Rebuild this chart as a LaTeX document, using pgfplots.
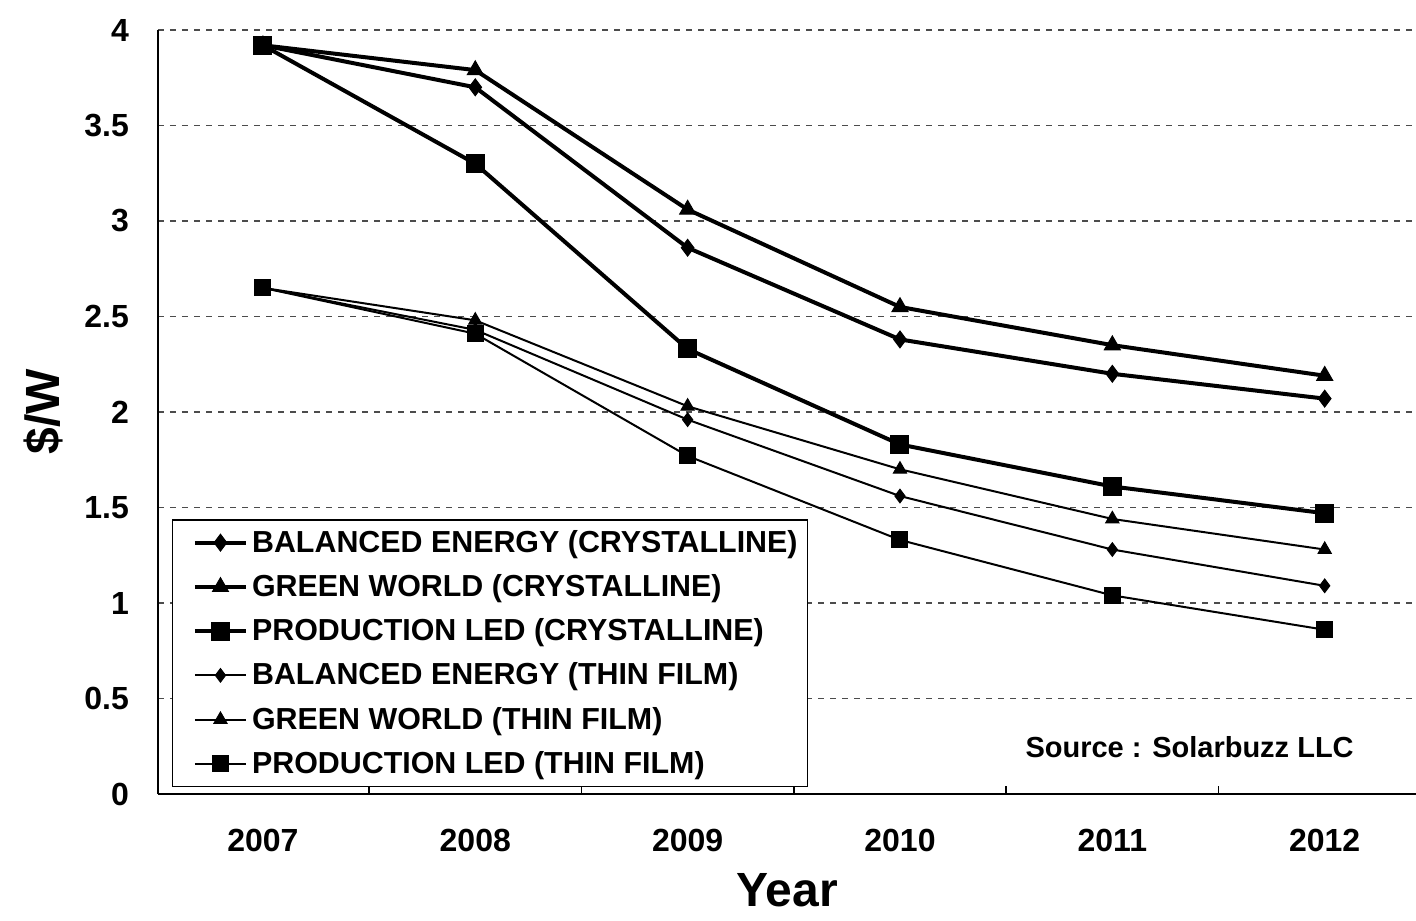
\documentclass[border=0pt]{standalone}
\usepackage{pgfplots}
\pgfplotsset{compat=1.18}
\usepackage{fontspec}
\setmainfont{Liberation Sans}
\usetikzlibrary{calc}
\begin{document}
\begin{tikzpicture}
\begin{axis}[scale only axis, width=629pt, height=382pt,
 xmin=2006.506, xmax=2012.43, ymin=0, ymax=4,
 axis x line=bottom, axis y line=left, axis line style={-, line width=0.9pt},
 xtick={2007,2008,2009,2010,2011,2012},
 xticklabels={2007,2008,2009,2010,2011,2012},
 major x tick style={draw=none},
 minor xtick={2007.5,2008.5,2009.5,2010.5,2011.5}, minor tick length=4pt, tick align=inside,
 minor tick style={black, line width=0.8pt},
 ytick={0,0.5,1,1.5,2,2.5,3,3.5,4},
 yticklabels={0,0.5,1,1.5,2,2.5,3,3.5,4},
 major y tick style={draw=none},
 ymajorgrids, grid style={dashed, gray!60!black, line width=0.6pt},
 tick label style={font=\bfseries\fontsize{16}{19}\selectfont},
 xticklabel style={yshift=-14pt},
 yticklabel style={xshift=-11pt},
 xlabel={Year}, ylabel={\$/W},
 xlabel style={font=\bfseries\fontsize{24}{28}\selectfont, yshift=-4pt},
 ylabel style={font=\bfseries\fontsize{24}{28}\selectfont, yshift=4pt},
 legend style={at={(0.011,0.009)}, anchor=south west, draw=black, line width=0.8pt,
   font=\bfseries\fontsize{15.2}{18}\selectfont, row sep=5.6pt, inner xsep=3pt, inner ysep=3pt},
 legend cell align=left,
 legend image code/.code={\path (0cm,0cm); \draw[mark repeat=2,mark phase=2] plot coordinates {(0.25cm,0cm) (0.7cm,0cm) (1.15cm,0cm)};},
 clip=false,
]
\addplot[black, line width=2pt, mark=diamond*, mark size=4.2pt, mark options={solid, line width=0.5pt}] coordinates {
(2007,3.92) (2008,3.70) (2009,2.86) (2010,2.38) (2011,2.20) (2012,2.07)};
\addlegendentry{BALANCED ENERGY (CRYSTALLINE)}
\addplot[black, line width=2pt, mark=triangle*, mark size=4.6pt, mark options={solid, line width=0.5pt}] coordinates {
(2007,3.92) (2008,3.79) (2009,3.06) (2010,2.55) (2011,2.35) (2012,2.19)};
\addlegendentry{GREEN WORLD (CRYSTALLINE)}
\addplot[black, line width=2pt, mark=square*, mark size=4.5pt, mark options={solid, line width=0.5pt}] coordinates {
(2007,3.92) (2008,3.30) (2009,2.33) (2010,1.83) (2011,1.61) (2012,1.47)};
\addlegendentry{PRODUCTION LED (CRYSTALLINE)}
\addplot[black, line width=1pt, mark=diamond*, mark size=3.4pt, mark options={solid, line width=0.5pt}] coordinates {
(2007,2.65) (2008,2.43) (2009,1.96) (2010,1.56) (2011,1.28) (2012,1.09)};
\addlegendentry{BALANCED ENERGY (THIN FILM)}
\addplot[black, line width=1pt, mark=triangle*, mark size=3.8pt, mark options={solid, line width=0.5pt}] coordinates {
(2007,2.65) (2008,2.48) (2009,2.03) (2010,1.70) (2011,1.44) (2012,1.28)};
\addlegendentry{GREEN WORLD (THIN FILM)}
\addplot[black, line width=1pt, mark=square*, mark size=4pt, mark options={solid, line width=0.5pt}] coordinates {
(2007,2.65) (2008,2.41) (2009,1.77) (2010,1.33) (2011,1.04) (2012,0.86)};
\addlegendentry{PRODUCTION LED (THIN FILM)}
\node[font=\bfseries\fontsize{14.5}{17}\selectfont] at (rel axis cs:0.82,0.062) {Source : Solarbuzz LLC};
\coordinate (bl) at (rel axis cs:0,0);
\coordinate (tr) at (rel axis cs:1,1);
\end{axis}
\pgfresetboundingbox
\path ($(bl)+(-79pt,-63pt)$) rectangle ($(tr)+(0pt,15pt)$);
\end{tikzpicture}
\end{document}
